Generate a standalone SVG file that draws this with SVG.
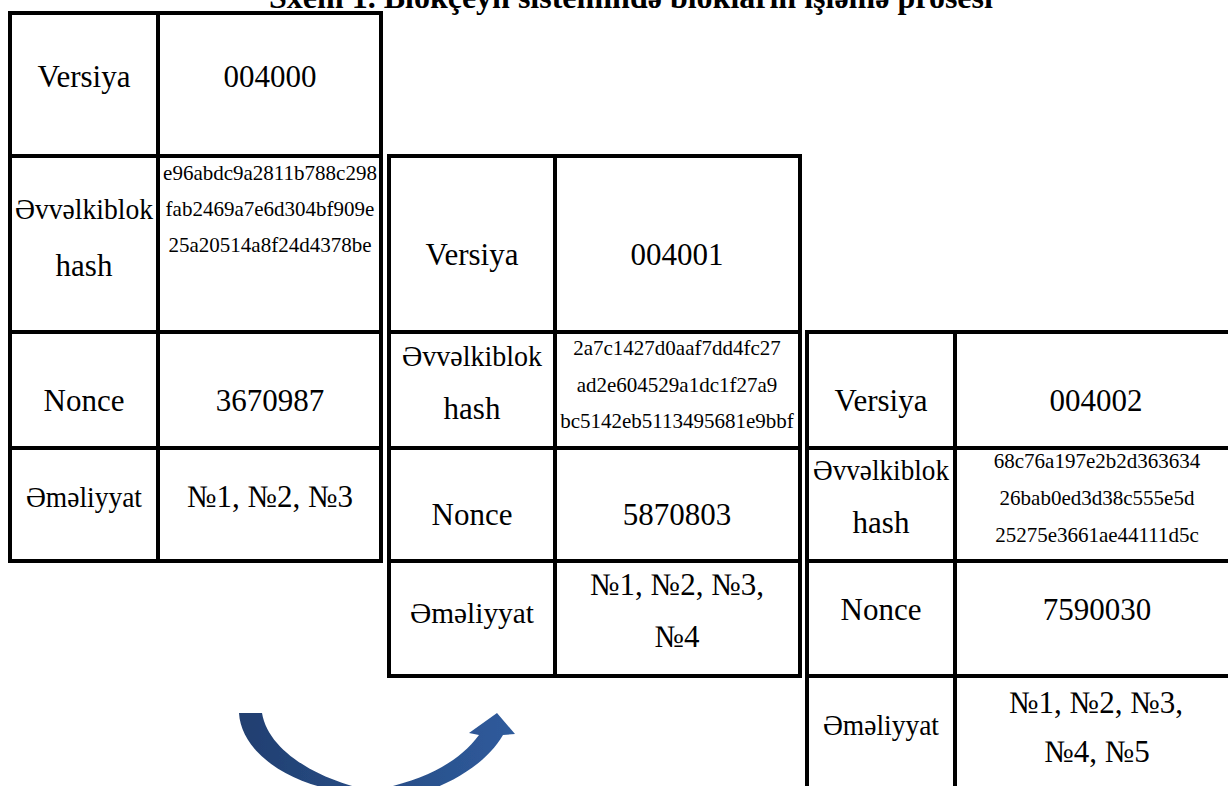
<svg xmlns="http://www.w3.org/2000/svg" width="1228" height="786" viewBox="0 0 1228 786">
<style>
.ln{stroke:#000;stroke-width:4;fill:none;stroke-linecap:square}
.t{font-family:"Liberation Serif","Times New Roman",serif;text-anchor:middle;fill:#000}
.lg{font-size:31px}
.md{font-size:30px}
.sm{font-size:21px}
.title{font-family:"Liberation Serif","Times New Roman",serif;font-weight:bold;font-size:32px;fill:#000}
</style>
<defs>
<linearGradient id="arrowGrad" x1="0" y1="0" x2="1" y2="0">
<stop offset="0" stop-color="#213f70"/>
<stop offset="1" stop-color="#2f5b9c"/>
</linearGradient>
<filter id="soft" x="-5%" y="-5%" width="110%" height="110%">
<feGaussianBlur stdDeviation="0.7"/>
</filter>
</defs>
<rect width="1228" height="786" fill="#fff"/>
<text class="title" x="269" y="8">Sxem 1. Blokçeyn sistemində blokların işləmə prosesi</text>

<g id="block-1">
<rect class="ln" x="10" y="13" width="371" height="548"/>
<line class="ln" x1="158" y1="13" x2="158" y2="561"/>
<line class="ln" x1="10" y1="156" x2="381" y2="156"/>
<line class="ln" x1="10" y1="332" x2="381" y2="332"/>
<line class="ln" x1="10" y1="448" x2="381" y2="448"/>
<text class="t lg" x="84" y="87">Versiya</text>
<text class="t lg" x="270" y="87">004000</text>
<text class="t md" x="84" y="219" textLength="138" lengthAdjust="spacingAndGlyphs">Əvvəlkiblok</text>
<text class="t lg" x="84" y="276">hash</text>
<text class="t sm" x="270" y="180">e96abdc9a2811b788c298</text>
<text class="t sm" x="270" y="216">fab2469a7e6d304bf909e</text>
<text class="t sm" x="270" y="252">25a20514a8f24d4378be</text>
<text class="t lg" x="84" y="411">Nonce</text>
<text class="t lg" x="270" y="411">3670987</text>
<text class="t md" x="84" y="507" textLength="116" lengthAdjust="spacingAndGlyphs">Əməliyyat</text>
<text class="t lg" x="270" y="507">№1, №2, №3</text>
</g>

<g id="block-2">
<rect class="ln" x="389" y="156" width="411" height="520"/>
<line class="ln" x1="555" y1="156" x2="555" y2="676"/>
<line class="ln" x1="389" y1="332" x2="800" y2="332"/>
<line class="ln" x1="389" y1="448" x2="800" y2="448"/>
<line class="ln" x1="389" y1="561" x2="800" y2="561"/>
<text class="t lg" x="472" y="265">Versiya</text>
<text class="t lg" x="677" y="265">004001</text>
<text class="t md" x="472" y="366" textLength="140" lengthAdjust="spacingAndGlyphs">Əvvəlkiblok</text>
<text class="t lg" x="472" y="419">hash</text>
<text class="t sm" x="677" y="355">2a7c1427d0aaf7dd4fc27</text>
<text class="t sm" x="677" y="392">ad2e604529a1dc1f27a9</text>
<text class="t sm" x="677" y="428">bc5142eb5113495681e9bbf</text>
<text class="t lg" x="472" y="525">Nonce</text>
<text class="t lg" x="677" y="525">5870803</text>
<text class="t md" x="472" y="623" textLength="124" lengthAdjust="spacingAndGlyphs">Əməliyyat</text>
<text class="t lg" x="677" y="595">№1, №2, №3,</text>
<text class="t lg" x="677" y="647">№4</text>
</g>

<g id="block-3">
<line class="ln" x1="807" y1="332" x2="1232" y2="332"/>
<line class="ln" x1="807" y1="448" x2="1232" y2="448"/>
<line class="ln" x1="807" y1="561" x2="1232" y2="561"/>
<line class="ln" x1="807" y1="676" x2="1232" y2="676"/>
<line class="ln" x1="807" y1="332" x2="807" y2="790"/>
<line class="ln" x1="955" y1="332" x2="955" y2="790"/>
<text class="t lg" x="881" y="411">Versiya</text>
<text class="t lg" x="1096" y="411">004002</text>
<text class="t md" x="881" y="480" textLength="136" lengthAdjust="spacingAndGlyphs">Əvvəlkiblok</text>
<text class="t lg" x="881" y="533">hash</text>
<text class="t sm" x="1097" y="468">68c76a197e2b2d363634</text>
<text class="t sm" x="1097" y="505">26bab0ed3d38c555e5d</text>
<text class="t sm" x="1097" y="542">25275e3661ae44111d5c</text>
<text class="t lg" x="881" y="620">Nonce</text>
<text class="t lg" x="1097" y="620">7590030</text>
<text class="t md" x="881" y="735" textLength="116" lengthAdjust="spacingAndGlyphs">Əməliyyat</text>
<text class="t lg" x="1096" y="713">№1, №2, №3,</text>
<text class="t lg" x="1097" y="762">№4, №5</text>
</g>

<g id="connectors">
<path fill="url(#arrowGrad)" filter="url(#soft)" d="M239,713 C241,748 280,780 335,790 L430,790 C462,778 490,758 503,735 L515,734 L497,713 L469,733 L479,735 C462,758 435,775 393,786 L360,788 C315,777 268,750 262,713 Z"/>
</g>
</svg>
